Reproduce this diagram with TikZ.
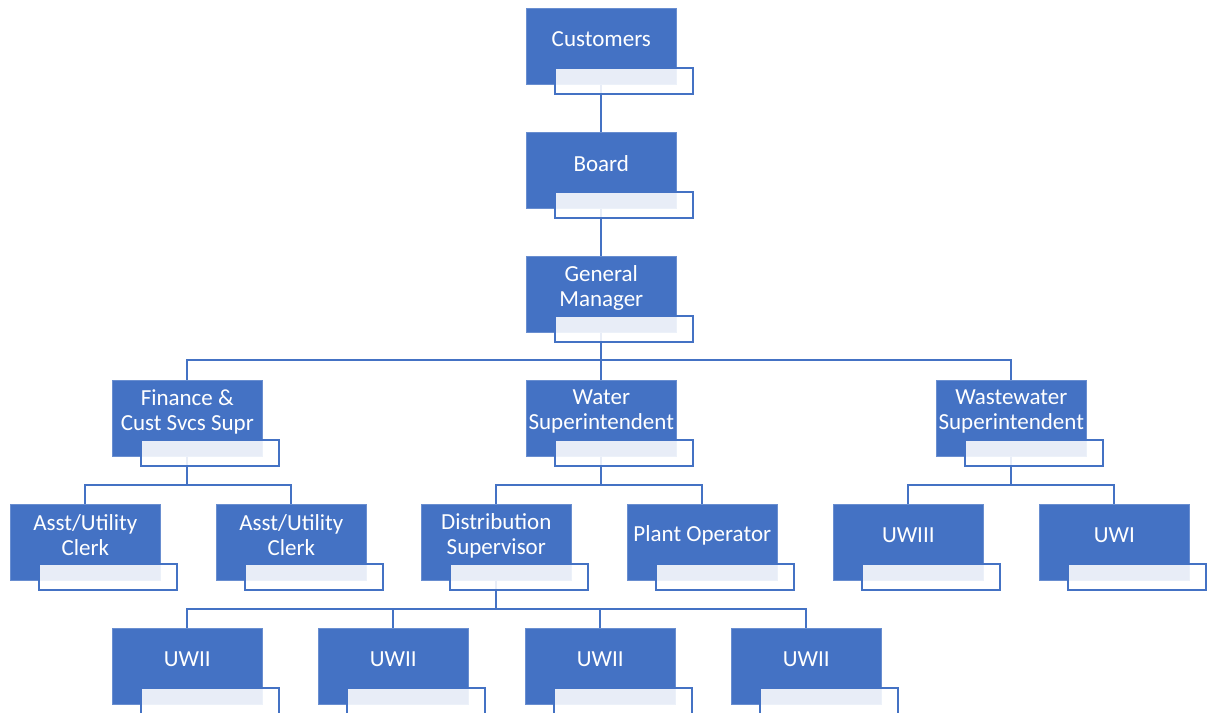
\documentclass[tikz,border=0pt]{standalone}
\usepackage{fontspec}
\setmainfont{Carlito}
\usetikzlibrary{calc}
\definecolor{orgblue}{HTML}{4472C4}
\tikzset{
  bluebox/.style={draw=orgblue!80!white, line width=0.6pt, fill=orgblue, minimum width=150pt, minimum height=76pt, inner sep=0pt, anchor=north west},
  boxtext/.style={text=white, inner sep=0pt, align=center, font=\fontsize{23}{25}\selectfont},
  notebox/.style={draw=orgblue, line width=2.2pt, fill=white, fill opacity=0.88, minimum width=138pt, minimum height=26pt, inner sep=0pt, anchor=north west},
  link/.style={draw=orgblue, line width=2pt},
}
% a position box: blue body with its title centred in the upper part
\newcommand{\posbox}[4]{%
  \node[bluebox] (#1) at (#2,#3) {};
  \node[boxtext] (#1-t) at ([yshift=-31.5pt]#1.north) {#4};}
% the framed strip that overlaps the lower right of a position box
\newcommand{\posnote}[1]{%
  \node[notebox] (#1-w) at ([xshift=28pt,yshift=-59pt]#1.north west) {};}
\begin{document}
\begin{tikzpicture}[x=1pt,y=-1pt]
\useasboundingbox (0,0) rectangle (1209,712);

\posbox{cust}{526}{8}{Customers}
\posbox{board}{526}{132}{Board}
\posbox{gm}{526}{256}{General\\Manager}
\posbox{fin}{112}{380}{Finance \&\\Cust Svcs Supr}
\posbox{water}{526}{380}{Water\\Superintendent}
\posbox{waste}{936}{380}{Wastewater\\Superintendent}
\posbox{clerka}{10}{504}{Asst/Utility\\Clerk}
\posbox{clerkb}{216}{504}{Asst/Utility\\Clerk}
\posbox{dist}{421}{504}{Distribution\\Supervisor}
\posbox{plant}{627}{504}{Plant Operator}
\posbox{uwthree}{833}{504}{UWIII}
\posbox{uwone}{1039}{504}{UWI}
\posbox{uwa}{112}{628}{UWII}
\posbox{uwb}{318}{628}{UWII}
\posbox{uwc}{525}{628}{UWII}
\posbox{uwd}{731}{628}{UWII}

% reporting lines
\draw[link] (cust.south) -- (board.north);
\draw[link] (board.south) -- (gm.north);
\foreach \c in {fin,water,waste}
  \draw[link] (gm.south) |- ([yshift=20pt]\c.north) -- (\c.north);
\foreach \c in {clerka,clerkb}
  \draw[link] (fin.south) |- ([yshift=19pt]\c.north) -- (\c.north);
\foreach \c in {dist,plant}
  \draw[link] (water.south) |- ([yshift=19pt]\c.north) -- (\c.north);
\foreach \c in {uwthree,uwone}
  \draw[link] (waste.south) |- ([yshift=19pt]\c.north) -- (\c.north);
\foreach \c in {uwa,uwb,uwc,uwd}
  \draw[link] (dist.south) |- ([yshift=19pt]\c.north) -- (\c.north);

\foreach \c in {cust,board,gm,fin,water,waste,clerka,clerkb,dist,plant,uwthree,uwone,uwa,uwb,uwc,uwd}
  {\posnote{\c}}
\end{tikzpicture}
\end{document}
